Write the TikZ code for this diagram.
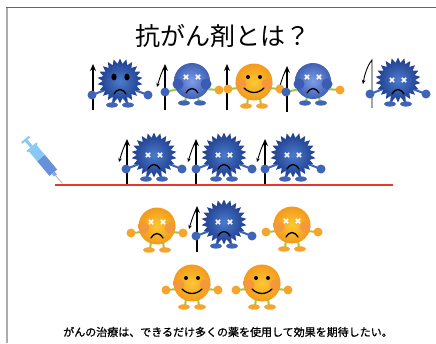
\documentclass[tikz,border=0pt]{standalone}
\usepackage{fontspec}
\newfontfamily\jp{Noto Sans CJK JP}
\newfontfamily\jpm[FakeBold=0.8]{Noto Sans CJK JP}
\usetikzlibrary{shapes.geometric,arrows.meta}

\definecolor{germdark}{HTML}{1E3C8C}
\definecolor{germlight}{HTML}{4C7BCC}
\definecolor{limbblue}{HTML}{3F64B8}
\definecolor{balldark}{HTML}{4060B4}
\definecolor{balllight}{HTML}{7D9DE8}
\definecolor{cheekblue}{HTML}{3C5CB4}
\definecolor{orangein}{HTML}{FCC832}
\definecolor{orangeout}{HTML}{F39A1C}
\definecolor{cheekorange}{HTML}{F59540}
\definecolor{limbgreen}{HTML}{9BCB3B}
\definecolor{handorange}{HTML}{F7A42C}
\definecolor{cutred}{HTML}{E8372B}
\definecolor{syrlight}{HTML}{86C8F6}
\definecolor{syrdark}{HTML}{6690DA}

\tikzset{
  xeye/.style={white, line width=1.5pt},
  mouth/.style={black, line width=1.3pt, line cap=round},
  limb/.style={line width=2pt, line cap=round},
  % white cross eyes and a frown
  pics/xeyes/.style={code={
    \draw[xeye] (-8.2,-2.2) -- (-3.8,2.2) (-8.2,2.2) -- (-3.8,-2.2)
                (3.8,-2.2) -- (8.2,2.2) (3.8,2.2) -- (8.2,-2.2);
  }},
  pics/frown/.style={code={
    \draw[mouth] (-6,3) .. controls (-2,-3) and (2,-3) .. (6,3);
  }},
  pics/smile/.style={code={
    \draw[mouth] (-10,-2) .. controls (-4,4) and (4,4) .. (10,-2);
  }},
  % spiky germ: arms, feet and star body
  pics/germbody/.style={code={
    \draw[limbblue, limb] (-12,8) -- (-28,14) (12,8) -- (28,14);
    \fill[limbblue] (-28,14) circle[radius=4.5pt] (28,14) circle[radius=4.5pt];
    \draw[limbblue, line width=2.4pt] (-6,16) -- (-7,23) (6,16) -- (7,23);
    \fill[limbblue] (-8,24) ellipse[x radius=6pt, y radius=2.6pt]
                    (8,24) ellipse[x radius=6pt, y radius=2.6pt];
    \node (-body) [star, star points=22, star point ratio=1.3, minimum size=45pt,
      inner sep=0pt, inner color=germlight, outer color=germdark] at (0,0) {};
  }},
  pics/germdead/.style={code={
    \pic {germbody};
    \pic at (0,0) {xeyes};
    \pic at (0,11) {frown};
  }},
  pics/germangry/.style={code={
    \pic {germbody};
    \fill[black] (-6,-4) ellipse[x radius=2.6pt, y radius=3.4pt]
                 (7,-4) ellipse[x radius=2.6pt, y radius=3.4pt];
    \pic at (0,10) {frown};
  }},
  % round blue character
  pics/blueball/.style={code={
    \draw[limbgreen, limb] (-13,8) -- (-27,11) (13,8) -- (27,9);
    \fill[limbblue] (-27,11) circle[radius=4.5pt];
    \fill[handorange] (27,9) circle[radius=4.5pt];
    \draw[limbgreen, line width=2pt] (-6,16) -- (-7,21) (6,16) -- (7,21);
    \fill[limbblue] (-8,22) ellipse[x radius=6pt, y radius=2.6pt]
                    (8,22) ellipse[x radius=6pt, y radius=2.6pt];
    \shade[inner color=balllight, outer color=balldark] (0,0) circle[radius=18pt];
    \fill[cheekblue] (-14,3) circle[radius=5.5pt] (14,3) circle[radius=5.5pt];
    \pic at (0,-4) {xeyes};
    \pic at (0,9) {frown};
  }},
  % round orange character
  pics/orangebody/.style={code={
    \draw[limbgreen, limb] (-14,6) -- (-26,7) (14,6) -- (26,7);
    \fill[handorange] (-26,7) circle[radius=4.5pt] (26,7) circle[radius=4.5pt];
    \draw[limbgreen, line width=2pt] (-6,16) -- (-7,23) (6,16) -- (7,23);
    \fill[handorange] (-8,24) ellipse[x radius=6pt, y radius=2.7pt]
                      (8,24) ellipse[x radius=6pt, y radius=2.7pt];
    \shade[inner color=orangein, outer color=orangeout] (0,0) circle[radius=18.5pt];
    \fill[cheekorange, opacity=0.85] (-13,2) circle[radius=5.5pt] (13,2) circle[radius=5.5pt];
  }},
  pics/orangesmile/.style={code={
    \pic {orangebody};
    \fill[black] (-6,-5) circle[radius=2pt] (6,-5) circle[radius=2pt];
    \pic at (0,8) {smile};
  }},
  pics/orangedead/.style={code={
    \pic {orangebody};
    \pic at (0,-4) {xeyes};
    \pic at (0,9) {frown};
  }},
  % arrows standing beside the characters
  pics/uparrow/.style={code={
    \draw[line width=1.8pt, -{Stealth[length=7pt, width=6pt]}] (0,0) -- (0,-46);
  }},
  pics/bentarrow/.style={code={
    \pic {uparrow};
    \draw[line width=0.9pt, -{Stealth[length=4pt, width=3.6pt]}]
      (-1,-42) .. controls (-4,-36) .. (-8,-23);
  }},
  pics/thinbent/.style={code={
    \draw[line width=0.9pt, -{Stealth[length=4pt, width=3.6pt]}]
      (0,0) -- (0,-48) .. controls (-3,-45) and (-7,-36) .. (-9,-24);
  }},
}

\begin{document}
\begin{tikzpicture}[x=1pt, y=-1pt]
  \useasboundingbox (0,0) rectangle (436,343);

  % slide frame
  \draw[gray!65, line width=2pt] (7,7) -- (7,343);
  \draw[gray!80!black, line width=1.5pt] (6,7.5) -- (436,7.5);

  \node (title) at (223,36) {\jp\fontsize{25}{25}\selectfont 抗がん剤とは？};

  % arrows
  \pic (a1) at (93,110) {uparrow};
  \pic (a2) at (165,110) {bentarrow};
  \pic (a3) at (227,110) {uparrow};
  \pic (a4) at (287,112) {bentarrow};
  \pic (a5) at (372,108) {thinbent};
  \pic (b1) at (127,185) {bentarrow};
  \pic (b2) at (196,185) {bentarrow};
  \pic (b3) at (265,185) {bentarrow};
  \pic (c1) at (197,252) {bentarrow};

  % first row
  \pic (g1) at (120,81) {germangry};
  \pic (p1) at (192,81) {blueball};
  \pic (o1) at (254,82) {orangesmile};
  \pic (p2) at (313,81) {blueball};
  \pic (g2) at (398,80) {germdead};

  % second row above the red line
  \pic (g3) at (154,155) {germdead};
  \pic (g4) at (224,155) {germdead};
  \pic (g5) at (293,155) {germdead};

  \coordinate (cutL) at (55,185);
  \coordinate (cutR) at (393,185);
  \draw[cutred, line width=2.4pt] (cutL) -- (cutR);

  % syringe
  \begin{scope}[shift={(25,139)}, rotate=-50]
    \fill[syrlight] (0,-5) rectangle (2,5);
    \fill[syrlight] (2,-1.6) rectangle (10,1.6);
    \fill[syrlight] (10,-6.5) rectangle (12,6.5);
    \fill[syrlight] (12,-5) rectangle (25,5);
    \fill[syrdark] (25,-5) rectangle (44,5);
    \fill[syrdark!80!white] (44,-1.8) rectangle (47.5,1.8);
    \draw[gray!60, line width=0.8pt] (47.5,0) -- (58,0);
  \end{scope}

  % third row
  \pic (o2) at (157,226) {orangedead};
  \pic (g6) at (224,222) {germdead};
  \pic (o3) at (292,225) {orangedead};

  % fourth row
  \pic (o4) at (192,283) {orangesmile};
  \pic (o5) at (262,283) {orangesmile};

  \node (caption) at (228,332) {\jpm\fontsize{11}{11}\selectfont がんの治療は、できるだけ多くの薬を使用して効果を期待したい。};
\end{tikzpicture}
\end{document}
